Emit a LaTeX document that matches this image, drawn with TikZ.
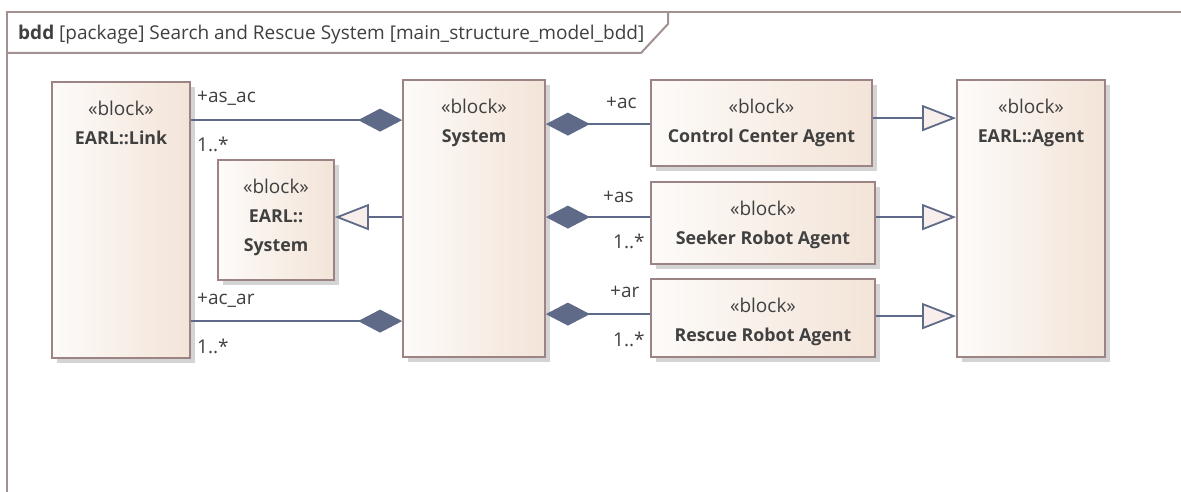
\documentclass[tikz,border=0pt]{standalone}
\usepackage{fontspec}
\setmainfont{Open Sans}
\usetikzlibrary{arrows.meta,shadows}

\definecolor{blockL}{HTML}{FDFBF9}
\definecolor{blockR}{HTML}{F3E4D8}
\definecolor{blockEdge}{HTML}{9C8484}
\definecolor{frameEdge}{HTML}{A39191}
\definecolor{linkLine}{HTML}{5F6A88}
\definecolor{triFill}{HTML}{F8EEEB}
\definecolor{txt}{HTML}{404040}

\newcommand{\blkname}[1]{{\fontsize{17.8}{29}\selectfont\bfseries #1}}

\begin{document}
\begin{tikzpicture}[x=1pt, y=-1pt,
        block/.style = {draw=blockEdge, line width=1.8pt, inner sep=0,
            left color=blockL, right color=blockR,
            drop shadow={shadow xshift=5pt, shadow yshift=-5pt,
                fill=black!17, opacity=1}},
        btext/.style = {anchor=north, align=center, inner sep=0,
            text=txt, font=\fontsize{19}{29}\selectfont},
        lbl/.style = {anchor=base west, inner sep=0, text=txt,
            font=\fontsize{19}{22}\selectfont},
        conn/.style = {draw=linkLine, line width=1.8pt},
        has/.style = {conn, -{Diamond[length=44pt, width=23pt, fill=linkLine]}},
        hasrev/.style = {conn, {Diamond[length=44pt, width=23pt, fill=linkLine]}-},
        isa/.style = {conn, -{Triangle[length=34pt, width=26pt, fill=triFill]}},
        bddframe/.style = {draw=frameEdge, line width=2pt}]
    \useasboundingbox (0,0) rectangle (1181,492);

    % frame and title tab
    \draw[bddframe] (1181,12) -- (7,12) -- (7,492);
    \draw[bddframe] (7,53) -- (641,53) -- (668,24) -- (668,12);
    \node[lbl] (title) at (18,40) {\textbf{bdd} [package] Search and Rescue System [main\_structure\_model\_bdd]};

    % blocks
    \node[block, minimum width=138, minimum height=276] (link) at (121,220) {};
    \node[block, minimum width=116, minimum height=120] (esys) at (276,220) {};
    \node[block, minimum width=142, minimum height=277] (sys) at (474,218.5) {};
    \node[block, minimum width=221, minimum height=86] (cca) at (761.5,123) {};
    \node[block, minimum width=224, minimum height=82] (sra) at (763,223) {};
    \node[block, minimum width=224, minimum height=78] (rra) at (763,318) {};
    \node[block, minimum width=148, minimum height=277] (agent) at (1031,218.5) {};

    \node[btext] (linkT) at ([yshift=-20pt]link.north) {«block»\\\blkname{EARL::Link}};
    \node[btext] (esysT) at ([yshift=-20pt]esys.north) {«block»\\\blkname{EARL::}\\\blkname{System}};
    \node[btext] (sysT) at ([yshift=-20pt]sys.north) {«block»\\\blkname{System}};
    \node[btext] (ccaT) at ([yshift=-20pt]cca.north) {«block»\\\blkname{Control Center Agent}};
    \node[btext] (sraT) at ([yshift=-20pt]sra.north) {«block»\\\blkname{Seeker Robot Agent}};
    \node[btext] (rraT) at ([yshift=-20pt]rra.north) {«block»\\\blkname{Rescue Robot Agent}};
    \node[btext] (agentT) at ([yshift=-20pt]agent.north) {«block»\\\blkname{EARL::Agent}};

    % composition
    \draw[has] ([yshift=-39pt]link.north east) -- ([yshift=-41pt]sys.north west);
    \draw[has] ([yshift=-240pt]link.north east) -- ([yshift=-242pt]sys.north west);
    \draw[hasrev] ([yshift=-45pt]sys.north east) -- ([yshift=-45pt]cca.north west);
    \draw[hasrev] ([yshift=-138pt]sys.north east) -- ([yshift=-36pt]sra.north west);
    \draw[hasrev] ([yshift=-235pt]sys.north east) -- ([yshift=-36pt]rra.north west);

    % generalization
    \draw[isa] ([yshift=-138pt]sys.north west) -- ([yshift=-58pt]esys.north east);
    \draw[isa] ([yshift=-39pt]cca.north east) -- ([yshift=-39pt]agent.north west);
    \draw[isa] ([yshift=-36pt]sra.north east) -- ([yshift=-138pt]agent.north west);
    \draw[isa] ([yshift=-38pt]rra.north east) -- ([yshift=-237pt]agent.north west);

    % role names and multiplicities
    \node[lbl] (asac) at (197,103) {+as\_ac};
    \node[lbl] (asacM) at (197,152) {1..*};
    \node[lbl] (acar) at (197,304) {+ac\_ar};
    \node[lbl] (acarM) at (197,353) {1..*};
    \node[lbl] (ac) at (606,109) {+ac};
    \node[lbl] (as) at (603,202) {+as};
    \node[lbl] (asM) at (613,248) {1..*};
    \node[lbl] (ar) at (610,297) {+ar};
    \node[lbl] (arM) at (613,346) {1..*};
\end{tikzpicture}
\end{document}
